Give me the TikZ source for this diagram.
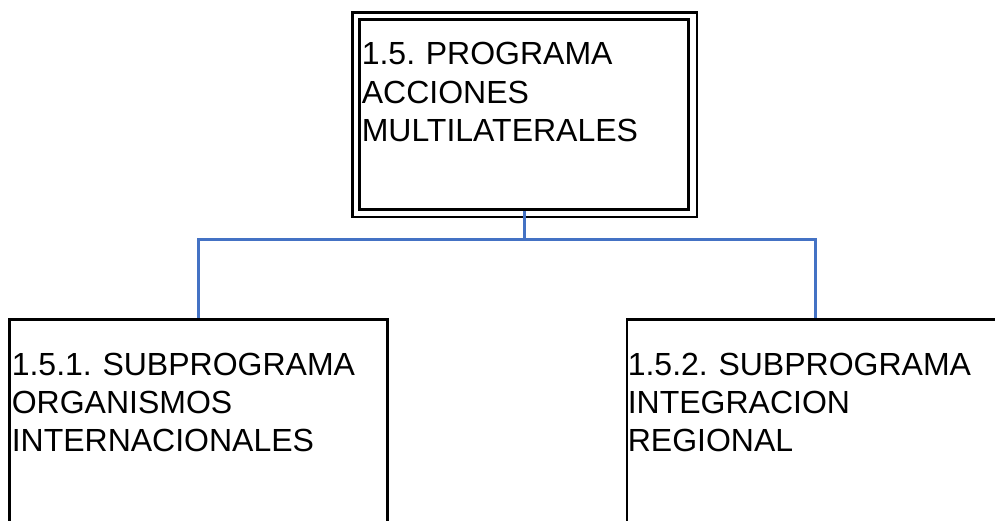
\documentclass[tikz,border=0pt]{standalone}
\usepackage{fontspec}
\setmainfont{Liberation Sans}
\frenchspacing
\definecolor{linkblue}{RGB}{68,114,196}

\begin{document}
\begin{tikzpicture}[x=1pt,y=-1pt,
    box/.style={draw, line width=2.9pt, inner sep=0pt, outer sep=0pt, anchor=north west},
    frameline/.style={draw, line width=2.5pt},
    txt/.style={anchor=base west, inner sep=0pt, text width=420pt, align=left,
        font=\fontsize{32}{38.2}\selectfont},
    link/.style={draw=linkblue, line width=3pt, shorten <=1.4pt, shorten >=1.4pt}]

    \useasboundingbox (0,0) rectangle (995,521);
    \clip (0,0) rectangle (995,521);

    % program box (double frame)
    \node[box, minimum width=329pt, minimum height=190pt] (prog) at (359.5,19.5) {};
    \draw[frameline] ([shift={(-7,-7)}]prog.north west) rectangle ([shift={(8.5,7.5)}]prog.south east);
    \node[txt] (progtxt) at (361.6,65) {1.5. PROGRAMA\\ACCIONES\\MULTILATERALES};

    % subprogram boxes, cut by the lower edge
    \node[box, minimum width=378pt, minimum height=280pt] (subA) at (9.5,319.5) {};
    \node[txt] (subAtxt) at (11.6,375.5) {1.5.1. SUBPROGRAMA\\ORGANISMOS\\INTERNACIONALES};

    \node[box, minimum width=376pt, minimum height=280pt] (subB) at (627,319.5) {};
    \node[txt] (subBtxt) at (627.6,375) {1.5.2. SUBPROGRAMA\\INTEGRACION\\REGIONAL};

    % connectors
    \coordinate (split) at (prog.south |- 0,239.5);
    \draw[link] (prog.south) -- (split);
    \draw[link, shorten <=0pt] (split) -| (subA.north);
    \draw[link, shorten <=0pt] (split) -| (subB.north);

\end{tikzpicture}
\end{document}
